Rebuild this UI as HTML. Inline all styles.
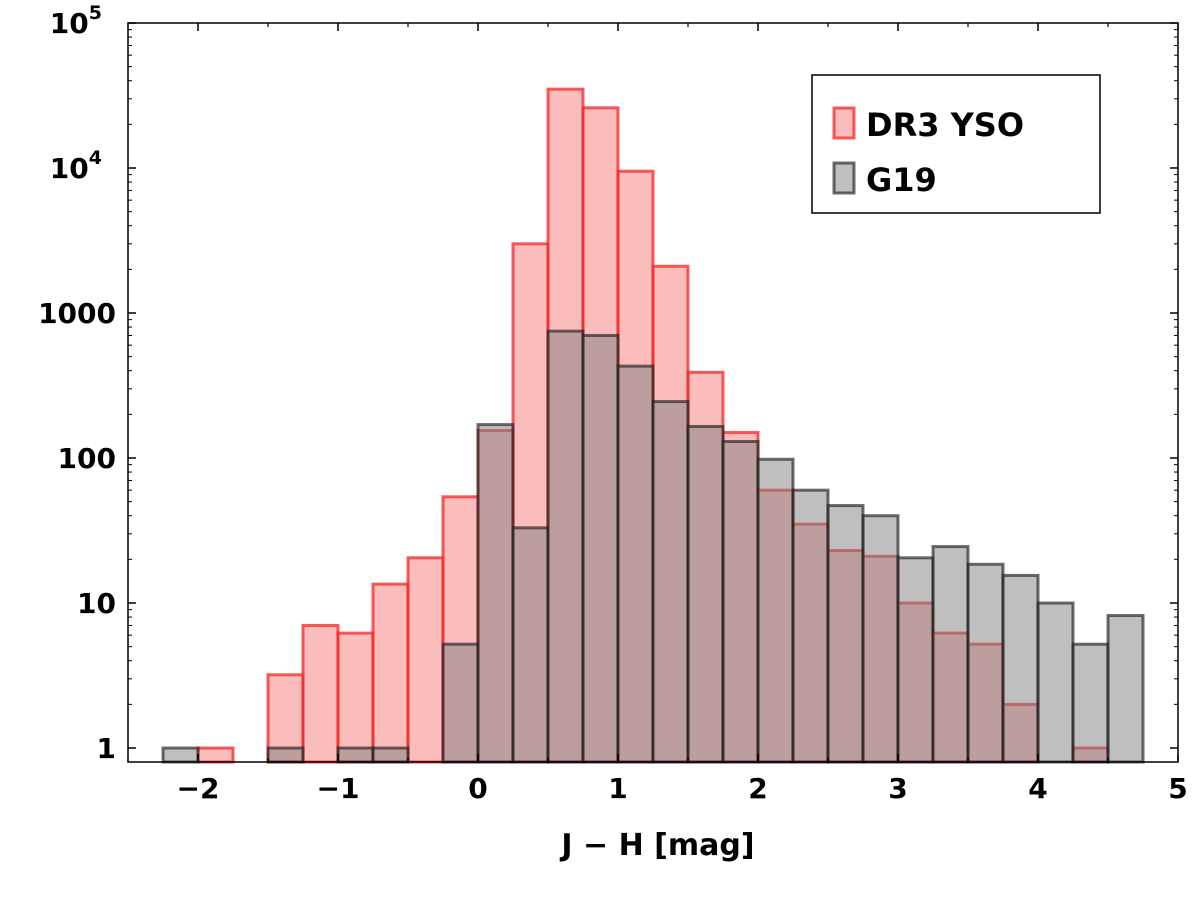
<!DOCTYPE html>
<html><head><meta charset="utf-8"><style>
html,body{margin:0;padding:0;background:#fff;}
svg text{font-family:"DejaVu Sans","Liberation Sans",sans-serif;font-weight:bold;fill:#000;}
</style></head><body>
<svg id="chart" width="1200" height="893" viewBox="0 0 1200 893" xmlns="http://www.w3.org/2000/svg">
<g id="bars"></g>
<g id="axes"></g>
</svg>
<script>
const binWidth = 0.25;
const redStarts = [-2.0,-1.5,-1.25,-1.0,-0.75,-0.5,-0.25,0,0.25,0.5,0.75,1.0,1.25,1.5,1.75,2.0,2.25,2.5,2.75,3.0,3.25,3.5,3.75,4.25];
const redCounts = [1,3.2,7,6.2,13.5,20.5,54,155,3000,35000,26000,9500,2100,390,150,60,35,23,21,10,6.2,5.2,2,1];
const grayStarts = [-2.25,-1.5,-1.0,-0.75,-0.25,0,0.25,0.5,0.75,1.0,1.25,1.5,1.75,2.0,2.25,2.5,2.75,3.0,3.25,3.5,3.75,4.0,4.25,4.5];
const grayCounts = [1,1,1,1,5.2,170,33,750,700,430,245,165,130,98,60,47,40,20.5,24.5,18.5,15.5,10,5.2,8.2];
const xTicks = [-2,-1,0,1,2,3,4,5];
const yTickVals = [1,10,100,1000,10000,100000];
const yTickLabels = ['1','10','100','1000','10^4','10^5'];

const L=128,R=1178,T=23,B=762;
const xMin=-2.5,xMax=5;
const yBottomLog=Math.log10(0.8), yTopLog=5;
const yOneY=748;
function xs(v){return L+(v-xMin)/(xMax-xMin)*(R-L);}
function ys(v){return yOneY-(Math.log10(v))*145;}
const NS='http://www.w3.org/2000/svg';
function mk(tag,attrs,parent){const e=document.createElementNS(NS,tag);for(const k in attrs)e.setAttribute(k,attrs[k]);parent.appendChild(e);return e;}
const bars=document.getElementById('bars'), axes=document.getElementById('axes');

redStarts.forEach((s,i)=>{
  const x0=xs(s),x1=xs(s+binWidth),y=ys(redCounts[i]);
  const r=mk('rect',{x:x0,y:y,width:x1-x0,height:B-y,fill:'rgba(245,80,80,0.38)',stroke:'rgba(240,40,40,0.75)','stroke-width':3},bars);
  
  
});
grayStarts.forEach((s,i)=>{
  const x0=xs(s),x1=xs(s+binWidth),y=ys(grayCounts[i]);
  const r=mk('rect',{x:x0,y:y,width:x1-x0,height:B-y,fill:'rgba(128,128,128,0.5)',stroke:'rgba(30,30,30,0.65)','stroke-width':3},bars);
  
  
});

// frame
const fr=mk('rect',{x:L,y:T,width:R-L,height:B-T,fill:'none',stroke:'#000','stroke-width':1.5},axes);



// x ticks
xTicks.forEach(v=>{
  const x=xs(v);
  mk('line',{x1:x,x2:x,y1:B,y2:B-8,stroke:'#000','stroke-width':1.5},axes);
  mk('line',{x1:x,x2:x,y1:T,y2:T+8,stroke:'#000','stroke-width':1.5},axes);
  const t=mk('text',{x:x,y:B+36,'text-anchor':'middle','font-size':28},axes);
  t.textContent=v<0?'\u2212'+Math.abs(v):String(v);
  
  
});
for(let v=-2.5;v<=5.001;v+=0.5){
  if(Math.abs(v-Math.round(v))<1e-6)continue;
  const x=xs(v);
  mk('line',{x1:x,x2:x,y1:B,y2:B-4,stroke:'#000','stroke-width':1.2},axes);
  mk('line',{x1:x,x2:x,y1:T,y2:T+4,stroke:'#000','stroke-width':1.2},axes);
}
// y ticks
yTickVals.forEach((v,i)=>{
  const y=ys(v);
  mk('line',{x1:L,x2:L+8,y1:y,y2:y,stroke:'#000','stroke-width':1.5},axes);
  mk('line',{x1:R,x2:R-8,y1:y,y2:y,stroke:'#000','stroke-width':1.5},axes);
  const lab=yTickLabels[i];
  const t=mk('text',{x:L-12,y:y+10,'text-anchor':'end','font-size':28},axes);
  if(lab.indexOf('^')>=0){
    const p=lab.split('^');
    t.textContent=p[0];
    const s=mk('tspan',{dy:-14,'font-size':19},t);s.textContent=p[1];
    t.setAttribute('x',L-26);
  } else t.textContent=lab;
  
  
  if(i<yTickVals.length-1){
    for(let m=2;m<10;m++){
      const yy=ys(v*m);
      mk('line',{x1:L,x2:L+4,y1:yy,y2:yy,stroke:'#000','stroke-width':1},axes);
      mk('line',{x1:R,x2:R-4,y1:yy,y2:yy,stroke:'#000','stroke-width':1},axes);
    }
  }
});
const xt=mk('text',{x:(L+R)/2+5,y:B+93,'text-anchor':'middle','font-size':30},axes);
xt.textContent='J \u2212 H [mag]';



// legend
const lg=mk('g',{},axes);


mk('rect',{x:812,y:75,width:288,height:138,fill:'#fff',stroke:'#000','stroke-width':1.5},lg);
mk('rect',{x:834,y:108,width:20,height:30,fill:'rgba(245,80,80,0.38)',stroke:'rgba(240,40,40,0.75)','stroke-width':3},lg);
const l1=mk('text',{x:866,y:136,'font-size':32},lg);l1.textContent='DR3 YSO';


mk('rect',{x:834,y:163,width:20,height:30,fill:'rgba(128,128,128,0.5)',stroke:'rgba(30,30,30,0.65)','stroke-width':3},lg);
const l2=mk('text',{x:866,y:191,'font-size':32},lg);l2.textContent='G19';


</script>
</body></html>
